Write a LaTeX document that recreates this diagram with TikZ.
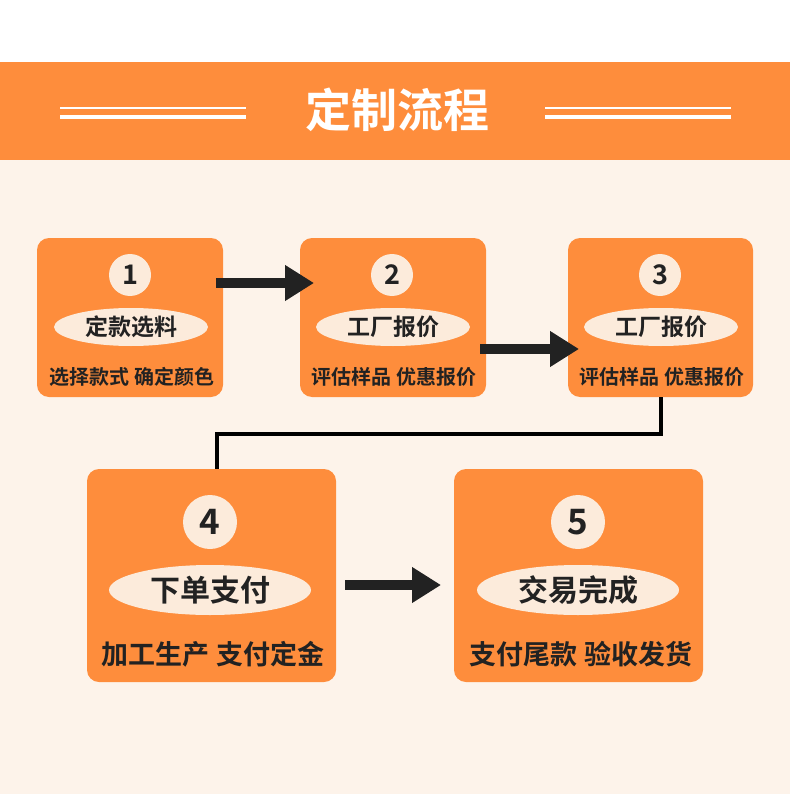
\documentclass[tikz,border=0pt]{standalone}
\usepackage{fontspec}
\setmainfont{Noto Sans CJK SC}
\newfontfamily\cjkb{Noto Sans CJK SC Bold}
\usetikzlibrary{arrows.meta,shapes.geometric}
\definecolor{band}{HTML}{FE8D3C}
\definecolor{cream}{HTML}{FDF3EA}
\definecolor{pill}{HTML}{FCEBDB}
\definecolor{ink}{HTML}{222222}
\tikzset{
  card/.style={fill=band, rounded corners=12pt, draw=none},
  badge/.style={circle, fill=pill, inner sep=0pt},
  pillshape/.style={ellipse, fill=pill, inner sep=0pt},
  flow/.style={line width=10pt, ink, -{Triangle[length=29pt,width=34pt]}},
  elbow/.style={line width=4pt, black},
  txt/.style={text=ink, font=\cjkb, inner sep=0pt},
}
\begin{document}
\begin{tikzpicture}[x=1pt,y=-1pt]
\useasboundingbox (0,0) rectangle (790,794);
\fill[white] (0,0) rectangle (790,62);
\fill[cream] (0,160) rectangle (790,794);
\fill[band] (0,62) rectangle (790,160);
% title
\node[text=white, font=\cjkb\fontsize{46}{46}\selectfont, inner sep=0pt] (title) at (397,110) {定制流程};
\fill[white] (60,107.5) rectangle (246,109);
\fill[white] (60,115.5) rectangle (246,119);
\fill[white] (545,107.5) rectangle (731,109);
\fill[white] (545,115.5) rectangle (731,119);
% cards
\path[card] (37,238) rectangle (223,397);
\path[card] (300,238) rectangle (486,397);
\path[card] (568,238) rectangle (753,397);
\path[card] (87,469) rectangle (336,682);
\path[card] (454,469) rectangle (703,682);
% anchors for connectors
\coordinate (b1e) at (216,283);
\coordinate (b2w) at (314,283);
\coordinate (b2e) at (480,349);
\coordinate (b3w) at (579,349);
\coordinate (b3s) at (661,397);
\coordinate (b4n) at (217,469);
\coordinate (b4e) at (345,585);
\coordinate (b5w) at (441,585);
% box 1
\node[badge, minimum size=42pt] (n1) at (130,275) {};
\node[txt, font=\cjkb\fontsize{27}{27}\selectfont] at (n1) {1};
\node[pillshape, minimum width=154pt, minimum height=38pt] (p1) at (131,327) {};
\node[txt, font=\cjkb\fontsize{23}{23}\selectfont] at (p1) {定款选料};
\node[txt, font=\cjkb\fontsize{20}{20}\selectfont] (s1) at (132,377) {选择款式 确定颜色};
% box 2
\node[badge, minimum size=42pt] (n2) at (392,275) {};
\node[txt, font=\cjkb\fontsize{27}{27}\selectfont] at (n2) {2};
\node[pillshape, minimum width=154pt, minimum height=38pt] (p2) at (393,327) {};
\node[txt, font=\cjkb\fontsize{23}{23}\selectfont] at (p2) {工厂报价};
\node[txt, font=\cjkb\fontsize{20}{20}\selectfont] (s2) at (394,377) {评估样品 优惠报价};
% box 3
\node[badge, minimum size=42pt] (n3) at (660,275) {};
\node[txt, font=\cjkb\fontsize{27}{27}\selectfont] at (n3) {3};
\node[pillshape, minimum width=154pt, minimum height=38pt] (p3) at (661,327) {};
\node[txt, font=\cjkb\fontsize{23}{23}\selectfont] at (p3) {工厂报价};
\node[txt, font=\cjkb\fontsize{20}{20}\selectfont] (s3) at (662,377) {评估样品 优惠报价};
% box 4
\node[badge, minimum size=54pt] (n4) at (210,522) {};
\node[txt, font=\cjkb\fontsize{35}{35}\selectfont] at (n4) {4};
\node[pillshape, minimum width=202pt, minimum height=50pt] (p4) at (210,590) {};
\node[txt, font=\cjkb\fontsize{30}{30}\selectfont] at (p4) {下单支付};
\node[txt, font=\cjkb\fontsize{27}{27}\selectfont] (s4) at (213,654) {加工生产 支付定金};
% box 5
\node[badge, minimum size=54pt] (n5) at (578,522) {};
\node[txt, font=\cjkb\fontsize{35}{35}\selectfont] at (n5) {5};
\node[pillshape, minimum width=202pt, minimum height=50pt] (p5) at (578,590) {};
\node[txt, font=\cjkb\fontsize{30}{30}\selectfont] at (p5) {交易完成};
\node[txt, font=\cjkb\fontsize{27}{27}\selectfont] (s5) at (581,654) {支付尾款 验收发货};
% connectors
\draw[flow] (b1e) -- (b2w);
\draw[flow] (b2e) -- (b3w);
\draw[flow] (b4e) -- (b5w);
\draw[elbow] (b3s) -- ++(0,37) -| (b4n);
\end{tikzpicture}
\end{document}
